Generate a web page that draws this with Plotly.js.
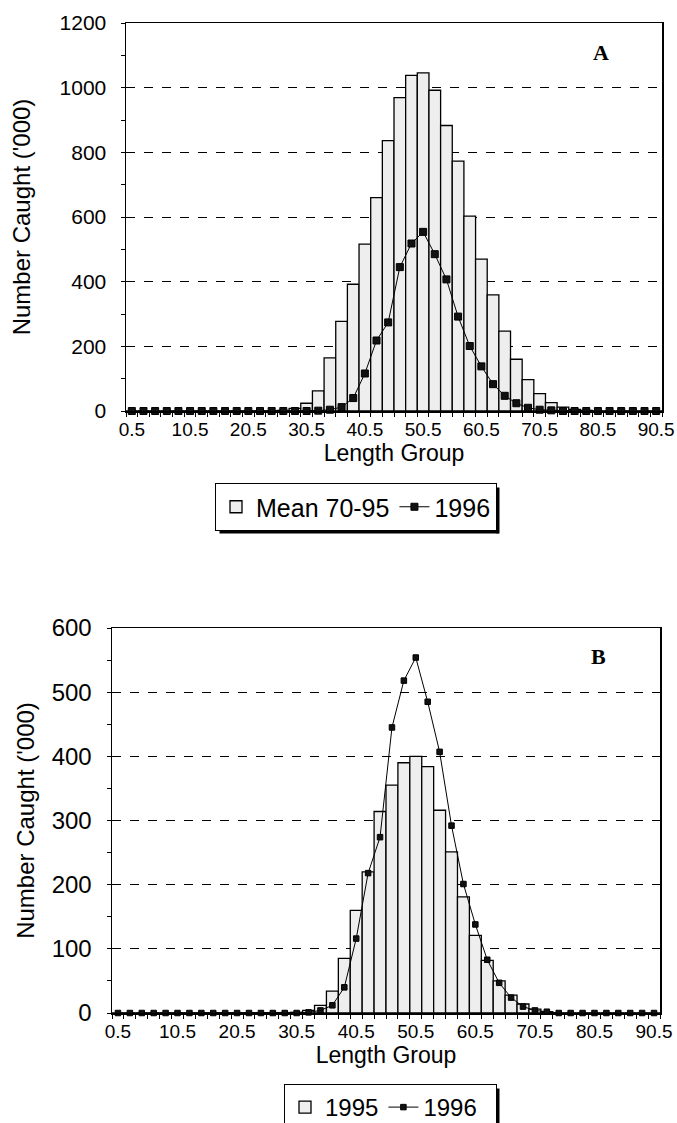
<!DOCTYPE html>
<html>
<head>
<meta charset="utf-8">
<script src="https://cdn.plot.ly/plotly-3.0.1.min.js"></script>
<style>
  html, body { margin: 0; padding: 0; background: #ffffff; }
  #chart { width: 677px; height: 1123px; }
</style>
</head>
<body>
<div id="chart"></div>
<script>
// Length groups (cm), one per bar / marker
const lengthGroups = [0.5, 2.5, 4.5, 6.5, 8.5, 10.5, 12.5, 14.5, 16.5, 18.5,
  20.5, 22.5, 24.5, 26.5, 28.5, 30.5, 32.5, 34.5, 36.5, 38.5,
  40.5, 42.5, 44.5, 46.5, 48.5, 50.5, 52.5, 54.5, 56.5, 58.5,
  60.5, 62.5, 64.5, 66.5, 68.5, 70.5, 72.5, 74.5, 76.5, 78.5,
  80.5, 82.5, 84.5, 86.5, 88.5, 90.5];

const xTickVals = [0.5, 10.5, 20.5, 30.5, 40.5, 50.5, 60.5, 70.5, 80.5, 90.5];
const xTickText = ['0.5', '10.5', '20.5', '30.5', '40.5', '50.5', '60.5', '70.5', '80.5', '90.5'];

// Panel A: mean catch 1970-95 ('000)
const mean7095 = [0, 0, 0, 0, 0, 0, 0, 0, 0, 0,
  0, 0, 0, 2, 8, 24, 62, 164, 277, 392,
  516, 660, 836, 969, 1038, 1046, 992, 883, 773, 603,
  470, 359, 247, 160, 97, 54, 26, 12, 5, 2,
  0, 0, 0, 0, 0, 0];

// 1996 catch ('000), shown in both panels
const catch1996 = [0, 0, 0, 0, 0, 0, 0, 0, 0, 0,
  0, 0, 0, 0, 0, 0, 1, 4, 12, 40,
  116, 218, 274, 445, 518, 554, 485, 407, 292, 201,
  138, 83, 47, 24, 10, 4, 2, 0, 0, 0,
  0, 0, 0, 0, 0, 0];

// Panel B: 1995 catch ('000)
const catch1995 = [0, 0, 0, 0, 0, 0, 0, 0, 0, 0,
  0, 0, 0, 0, 0, 1, 4, 12, 34, 85,
  160, 220, 314, 355, 390, 400, 384, 316, 251, 181,
  121, 82, 50, 28, 14, 6, 2, 0, 0, 0,
  0, 0, 0, 0, 0, 0];

const FONT = '"Liberation Sans", Arial, sans-serif';
const SERIF = '"Liberation Serif", "Times New Roman", serif';
const BAR_FILL = '#eeeeee';

const traces = [
  { type: 'bar', x: lengthGroups, y: mean7095, name: 'Mean 70-95',
    xaxis: 'x', yaxis: 'y', legend: 'legend',
    marker: { color: BAR_FILL, line: { color: '#000', width: 1.3 } } },
  { type: 'scatter', mode: 'lines+markers', x: lengthGroups, y: catch1996, name: '1996',
    xaxis: 'x', yaxis: 'y', legend: 'legend', cliponaxis: false,
    line: { color: '#000', width: 1 },
    marker: { symbol: 'square', size: 7, color: '#111', line: { color: '#000', width: 1 } } },
  { type: 'bar', x: lengthGroups, y: catch1995, name: '1995',
    xaxis: 'x2', yaxis: 'y2', legend: 'legend2',
    marker: { color: BAR_FILL, line: { color: '#000', width: 1.3 } } },
  { type: 'scatter', mode: 'lines+markers', x: lengthGroups, y: catch1996, name: '1996\u00a0\u00a0',
    xaxis: 'x2', yaxis: 'y2', legend: 'legend2', cliponaxis: false,
    line: { color: '#000', width: 1 },
    marker: { symbol: 'square', size: 5.5, color: '#111', line: { color: '#000', width: 1 } } }
];

function xAxis(domain, anchor) {
  return {
    domain: domain, anchor: anchor, range: [-0.5, 91.5],
    tickmode: 'array', tickvals: xTickVals, ticktext: xTickText,
    ticks: 'outside', ticklen: 0, ticklabelstandoff: 1,
    minor: { ticks: 'outside', tick0: -0.5, dtick: 2, ticklen: 4, tickcolor: '#000', tickwidth: 1 },
    showline: true, linecolor: '#000', linewidth: 1.5, mirror: true,
    showgrid: false, zeroline: false,
    tickfont: { family: FONT, size: 19, color: '#000' },
    title: { text: 'Length Group', font: { family: FONT, size: 23, color: '#000' }, standoff: 0 },
    automargin: false
  };
}
function yAxis(domain, anchor, max, step, tickSize, standoff) {
  return {
    domain: domain, anchor: anchor, range: [0, max],
    tickmode: 'linear', tick0: 0, dtick: step,
    ticks: 'outside', ticklen: 4, tickcolor: '#000',
    minor: { ticks: 'outside', dtick: step / 2, ticklen: 4, tickcolor: '#000', showgrid: false },
    showline: true, linecolor: '#000', linewidth: 1.5, mirror: true,
    showgrid: true, gridcolor: '#000', griddash: 'dash', gridwidth: 1,
    zeroline: false, ticklabelstandoff: 10,
    tickfont: { family: FONT, size: tickSize, color: '#000' },
    automargin: true,
    title: { text: "Number Caught ('000)", font: { family: FONT, size: 24, color: '#000' }, standoff: standoff }
  };
}

const W = 677, H = 1123;
const legendBase = {
  orientation: 'h', xanchor: 'right', yanchor: 'top',
  bgcolor: '#fff', bordercolor: '#000', borderwidth: 1,
  itemwidth: 30, traceorder: 'normal'
};
const layout = {
  width: W, height: H,
  margin: { l: 0, r: 0, t: 0, b: 0, autoexpand: false },
  paper_bgcolor: '#fff', plot_bgcolor: '#fff',
  bargap: 0, barmode: 'overlay',
  showlegend: true,
  xaxis: xAxis([126 / W, 662 / W], 'y'),
  yaxis: yAxis([1 - 411 / H, 1 - 23 / H], 'x', 1200, 200, 21, 22),
  xaxis2: xAxis([112 / W, 660 / W], 'y2'),
  yaxis2: yAxis([1 - 1013 / H, 1 - 628 / H], 'x2', 600, 100, 24, 10),
  legend: Object.assign({}, legendBase, { x: 497 / W, y: 1 - 483 / H,
    font: { family: FONT, size: 25, color: '#000' } }),
  legend2: Object.assign({}, legendBase, { x: 497 / W, y: 1 - 1084 / H,
    font: { family: FONT, size: 24, color: '#000' } }),
  annotations: [
    { text: '<b>A</b>', xref: 'x domain', yref: 'y domain', x: 0.905, y: 0.925, yanchor: 'middle', showarrow: false,
      font: { family: SERIF, size: 22, color: '#000' } },
    { text: '<b>B</b>', xref: 'x2 domain', yref: 'y2 domain', x: 0.905, y: 0.925, yanchor: 'middle', showarrow: false,
      font: { family: SERIF, size: 22, color: '#000' } }
  ]
};

Plotly.newPlot('chart', traces, layout, { displayModeBar: false, staticPlot: true }).then(function (gd) {
  // drop shadow on the right and bottom edges of each legend box (Excel style)
  const root = gd.getBoundingClientRect();
  const shapes = [];
  ['legend', 'legend2'].forEach(function (id) {
    const bg = gd.querySelector('g.' + id + ' rect.bg');
    if (!bg) return;
    const r = bg.getBoundingClientRect();
    const x0 = r.left - root.left, x1 = r.right - root.left;
    const y0 = r.top - root.top, y1 = r.bottom - root.top;
    const px = function (v) { return v / W; };
    const py = function (v) { return 1 - v / H; };
    shapes.push({ type: 'line', xref: 'paper', yref: 'paper', layer: 'above',
      x0: px(x0 + 4), x1: px(x1 + 2), y0: py(y1 + 1.5), y1: py(y1 + 1.5), line: { color: '#000', width: 3 } });
    shapes.push({ type: 'line', xref: 'paper', yref: 'paper', layer: 'above',
      x0: px(x1 + 1.5), x1: px(x1 + 1.5), y0: py(y0 + 4), y1: py(y1 + 3), line: { color: '#000', width: 3 } });
  });
  return Plotly.relayout(gd, { shapes: shapes });
});
</script>
</body>
</html>
